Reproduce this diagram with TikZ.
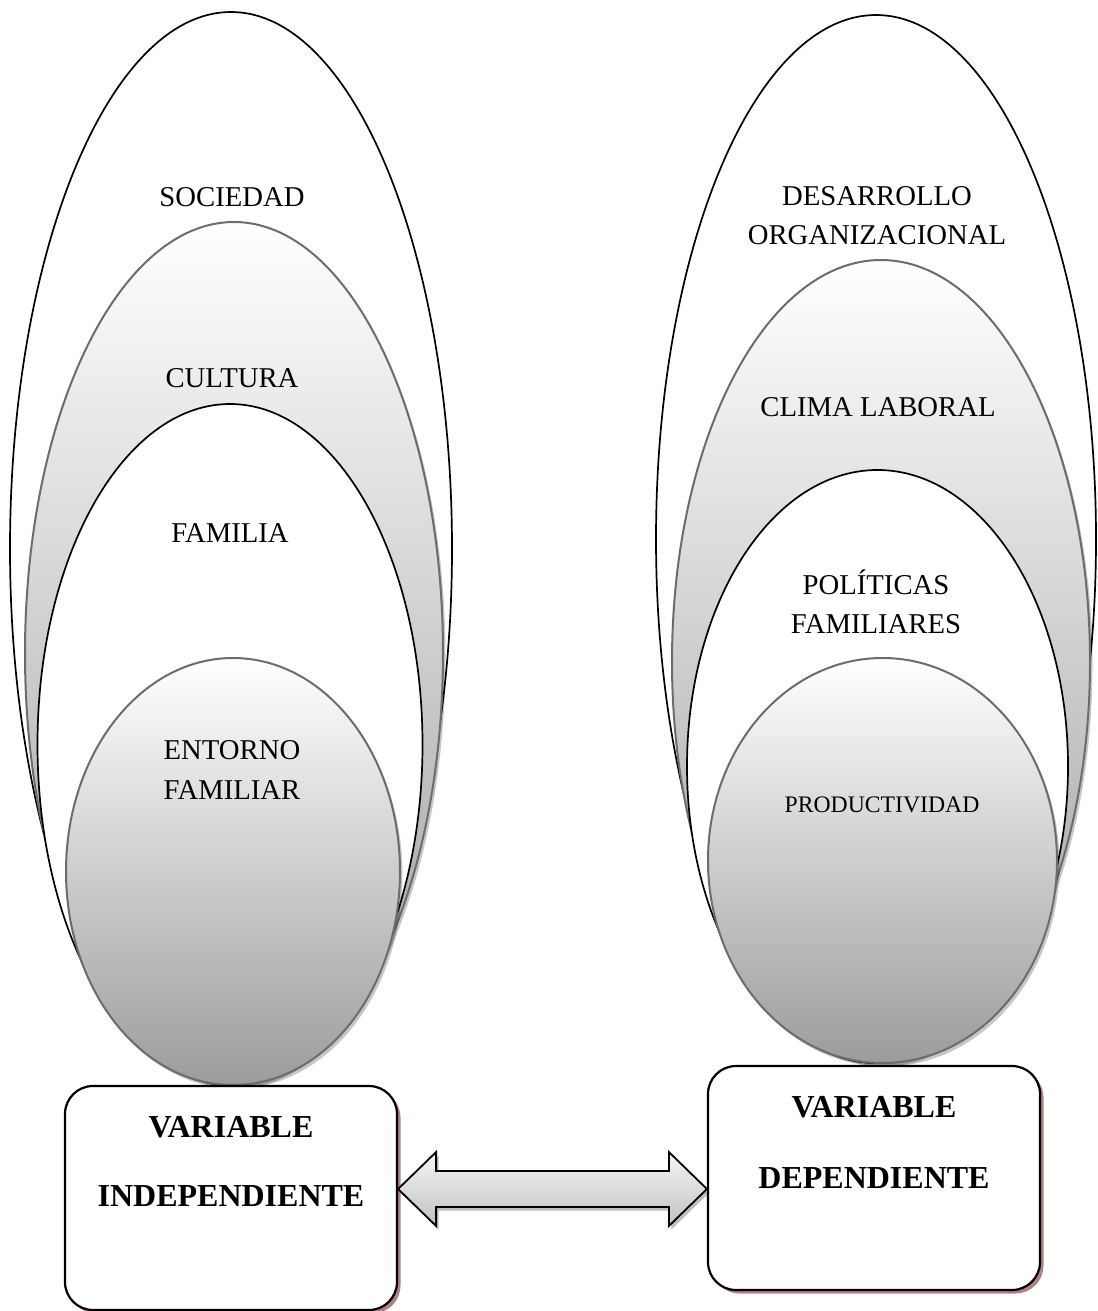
\documentclass[tikz,border=0pt]{standalone}
\usepackage{fontspec}
\setmainfont{Liberation Serif}
\usetikzlibrary{shadows,calc}

\definecolor{edgegray}{RGB}{108,108,108}
\definecolor{gradbot}{RGB}{156,156,156}
\definecolor{boxshadow}{RGB}{178,128,128}

\begin{document}
\begin{tikzpicture}[x=1pt,y=-1pt,
  outline/.style={draw=black, line width=1.7pt, fill=white},
  shadedell/.style={draw=edgegray, line width=2pt, top color=white, bottom color=gradbot,
     drop shadow={shadow xshift=2.5pt, shadow yshift=-3.5pt, fill=black, opacity=0.22}},
  lbl/.style={inner sep=0pt, align=center, font={\fontsize{28.7}{39.5}\selectfont}},
  smalllbl/.style={inner sep=0pt, align=center, font={\fontsize{23.7}{30}\selectfont}},
  varbox/.style={draw=black, line width=2.2pt, fill=white, rounded corners=28pt,
     minimum width=332pt, minimum height=224pt, inner sep=0pt,
     drop shadow={shadow xshift=3.5pt, shadow yshift=-3.5pt, fill=boxshadow, opacity=1}},
  vlabel/.style={inner sep=0pt, font={\fontsize{32}{38}\selectfont\bfseries}},
  bigarrow/.style={draw=black, line width=1.8pt, top color=gray!8, bottom color=gray!48,
     drop shadow={shadow xshift=2.5pt, shadow yshift=-3.5pt, fill=black, opacity=0.25}}
]
\useasboundingbox (0,0) rectangle (1097,1311);

% ---------- left nested ellipses ----------
\path[outline]   (231,548.5) ellipse [x radius=221pt, y radius=536.5pt];
\path[shadedell] (234,653.5) ellipse [x radius=209pt, y radius=431.5pt];
\path[outline]   (230,744.5) ellipse [x radius=192.5pt, y radius=340.5pt];
\path[shadedell] (233,871.5) ellipse [x radius=167pt, y radius=213.5pt];

\node[lbl] (soc) at (232,197.5) {SOCIEDAD};
\node[lbl] (cul) at (232,378) {CULTURA};
\node[lbl] (fam) at (230,533) {FAMILIA};
\node[lbl] (ent) at (232,770) {ENTORNO\\FAMILIAR};

% ---------- right nested ellipses ----------
\path[outline]   (876,539) ellipse [x radius=220pt, y radius=524pt];
\path[shadedell] (881,661.5) ellipse [x radius=209pt, y radius=401.5pt];
\path[outline]   (877.5,766.5) ellipse [x radius=190.5pt, y radius=296.5pt];
\path[shadedell] (882.5,860.5) ellipse [x radius=174.5pt, y radius=202.5pt];

\node[lbl] (des) at (877,215.5) {DESARROLLO\\ORGANIZACIONAL};
\node[lbl] (cli) at (878,407) {CLIMA LABORAL};
\node[lbl] (pol) at (876,602) {POLÍTICAS\\FAMILIARES};
\node[smalllbl] (pro) at (882,805) {PRODUCTIVIDAD};

% ---------- variable boxes ----------
\node[varbox] (vi) at (231,1198) {};
\node[varbox] (vd) at (874,1178) {};

\node[vlabel] (vi1) at ($(vi.center)+(0,-70.5)$) {VARIABLE};
\node[vlabel] (vi2) at ($(vi.center)+(0,-2)$) {INDEPENDIENTE};
\node[vlabel] (vd1) at ($(vd.center)+(0,-70.5)$) {VARIABLE};
\node[vlabel] (vd2) at ($(vd.center)+(0,0)$) {DEPENDIENTE};

% ---------- double block arrow ----------
\coordinate (ac) at (0,1189);
\coordinate (tl) at (vi.east |- ac);
\coordinate (tr) at (vd.west |- ac);
\path[bigarrow] (tl) -- ($(tl)+(38,-37)$) -- ($(tl)+(38,-18)$)
   -- ($(tr)+(-38,-18)$) -- ($(tr)+(-38,-37)$) -- (tr)
   -- ($(tr)+(-38,37)$) -- ($(tr)+(-38,18)$)
   -- ($(tl)+(38,18)$) -- ($(tl)+(38,37)$) -- cycle;
\end{tikzpicture}
\end{document}
